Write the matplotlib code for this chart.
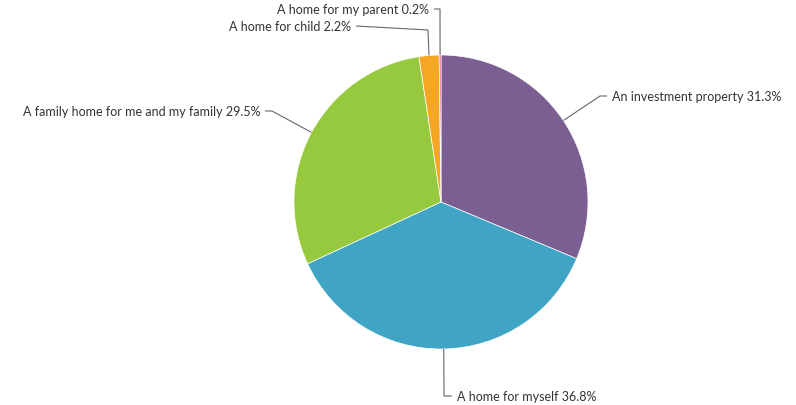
import numpy as np
import matplotlib
matplotlib.use("Agg")
import matplotlib.pyplot as plt

labels = ['An investment property', 'A home for myself', 'A family home for me and my family',
          'A home for child', 'A home for my parent']
shares = [31.3, 36.8, 29.5, 2.2, 0.2]
colors = ['#7b5e92', '#40a4c4', '#96c93d', '#f5a623', '#f0577a']

W, H = 796, 406
fig = plt.figure(figsize=(W / 100, H / 100), dpi=100)
ax = fig.add_axes([0, 0, 1, 1])
ax.axis('off')

cx, cy, r = 441, H - 203, 147
ax.pie(shares, colors=colors, startangle=90, counterclock=False, center=(cx, cy), radius=r,
       wedgeprops=dict(edgecolor='white', linewidth=0.5))
ax.set_xlim(0, W)
ax.set_ylim(0, H)
ax.set_aspect('equal')

# elbow point and label anchor for each slice (screen coords, y down)
elbows = [(600, 97), (444, 397), (272, 112), (428, 31), (440, 10)]
anchors = [(607, 97), (452, 397), (265, 112), (356, 27), (434, 10)]

cum = np.cumsum([0] + shares[:-1])
for i, lab in enumerate(labels):
    mid = np.deg2rad(90 - (cum[i] + shares[i] / 2) * 3.6)
    ex, ey = cx + r * np.cos(mid), cy + r * np.sin(mid)
    bx, by = elbows[i]
    tx, ty = anchors[i]
    ax.plot([ex, bx, tx], [ey, H - by, H - ty], color='#666666', lw=0.8, solid_capstyle='butt')
    left = tx > bx
    ax.text(tx + (5 if left else -5), H - ty, f'{lab} {shares[i]}%', ha='left' if left else 'right',
            va='center', fontsize=9, family='Lato', color='#333333')

fig.savefig('out.png', dpi=100)
